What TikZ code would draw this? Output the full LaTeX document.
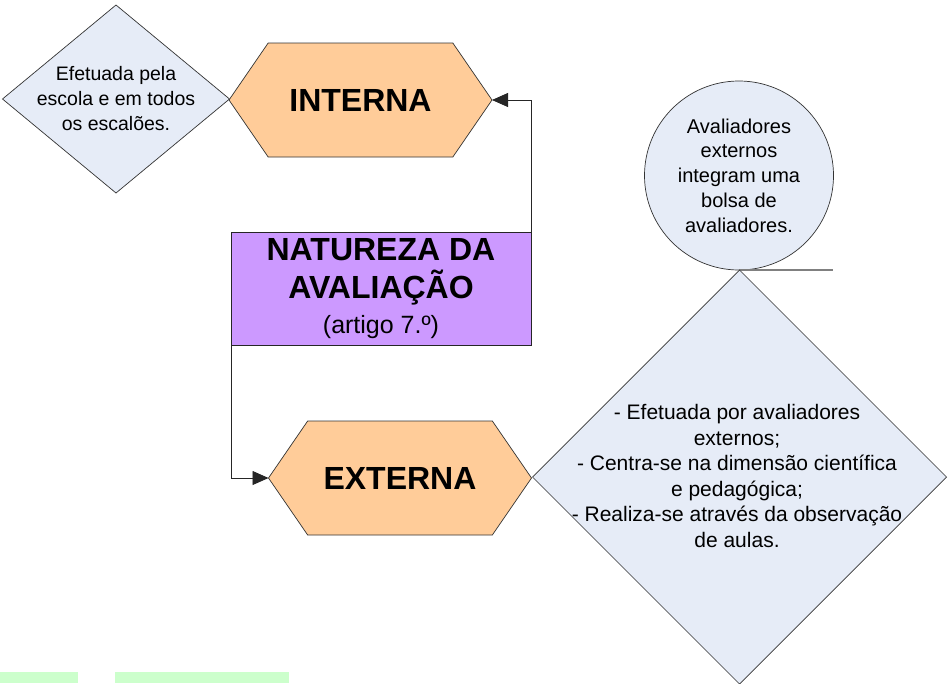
\documentclass[tikz,border=0pt]{standalone}
\usepackage{fontspec}
\setmainfont{Liberation Sans}
\usetikzlibrary{shapes.geometric,shapes.symbols,arrows.meta}
\definecolor{peach}{HTML}{FFCC99}
\definecolor{lilac}{HTML}{CC99FF}
\definecolor{paleblue}{HTML}{E6ECF7}
\definecolor{palegreen}{HTML}{CCFFCC}
\tikzset{
  hexa/.style={shape=signal, signal to=east and west, signal pointer angle=111,
    minimum width=263pt, minimum height=114pt, inner sep=0pt, outer sep=0pt,
    fill=peach, draw=black!80, line width=0.7pt,
    font=\fontsize{32}{38}\selectfont\bfseries},
  losango/.style={shape=diamond, aspect=1, inner sep=0pt, outer sep=0pt,
    fill=paleblue, draw=black!80, line width=0.7pt},
  texto/.style={align=center, inner sep=0pt},
  conn/.style={-{Triangle[length=16pt,width=14pt]}, draw=black!85, line width=0.8pt}
}
\begin{document}
\begin{tikzpicture}[x=1pt, y=-1pt]
  \useasboundingbox (0,0) rectangle (950,683);
  \fill[palegreen] (0,672) rectangle (78,683);
  \fill[palegreen] (115,672) rectangle (289,683);

  \node[losango, minimum width=227pt, minimum height=188pt] (escola) at (116,99) {};
  \node[texto, font=\fontsize{19.5}{25}\selectfont] (escolatxt) at (escola.center)
    {Efetuada pela\\escola e em todos\\os escalões.};
  \node[hexa] (interna) at (360.5,100) {INTERNA};

  \node[rectangle, fill=lilac, draw=black!85, line width=0.7pt, inner sep=0pt, outer sep=0pt,
    minimum width=300pt, minimum height=113pt] (natureza) at (381,288.5) {};
  \node[texto, font=\fontsize{32}{38}\selectfont\bfseries] (naturezatxt) at (381,272)
    {NATUREZA DA\\AVALIAÇÃO};
  \node[texto, font=\fontsize{25}{25}\selectfont] (artigo) at (381,327) {(artigo 7.º)};

  \node[hexa] (externa) at (400,478) {EXTERNA};

  \node[circle, minimum size=189pt, inner sep=0pt, outer sep=0pt,
    fill=paleblue, draw=black!80, line width=0.7pt] (bolsa) at (739,175.5) {};
  \node[texto, font=\fontsize{20}{24.7}\selectfont] (bolsatxt) at (bolsa.center)
    {Avaliadores\\externos\\integram uma\\bolsa de\\avaliadores.};
  \coordinate (bolsafim) at (833,270);
  \draw[black!50, line width=1.3pt] (bolsa.south) -- (bolsafim);

  \node[losango, minimum width=414pt, minimum height=414pt] (aulas) at (739.5,477) {};
  \node[texto, font=\fontsize{21}{25.6}\selectfont] (aulastxt) at (737,476)
    {- Efetuada por avaliadores\\externos;\\- Centra-se na dimensão científica\\e pedagógica;\\- Realiza-se através da observação\\de aulas.};

  \draw[conn] (natureza.north east) |- (interna.east);
  \draw[conn] (natureza.south west) |- (externa.west);
\end{tikzpicture}
\end{document}
